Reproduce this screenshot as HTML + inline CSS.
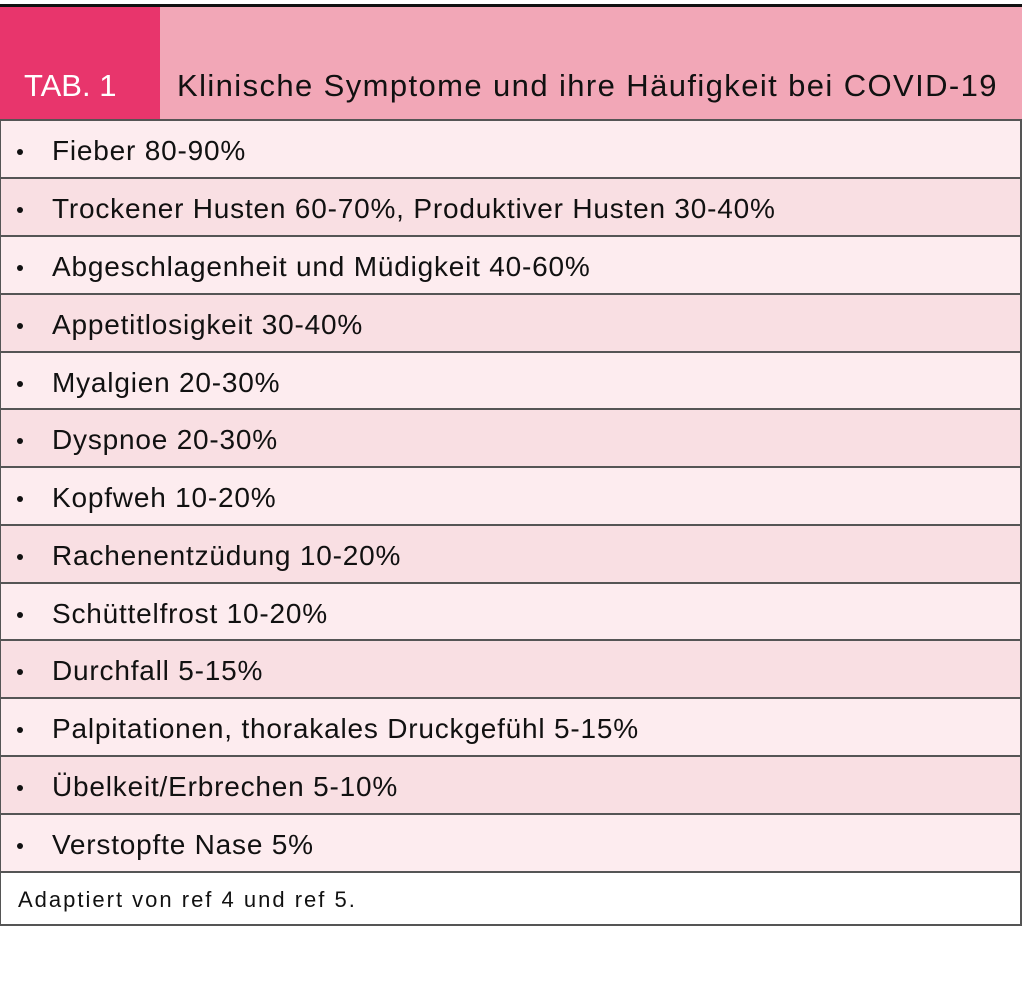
<!DOCTYPE html>
<html><head><meta charset="utf-8"><style>
body{margin:0;width:1024px;height:989px;background:#fff;position:relative;font-family:"Liberation Sans",sans-serif;overflow:hidden}
.top{position:absolute;left:0;top:4px;width:1022px;height:3px;background:#111}
.hdr{position:absolute;left:0;top:7px;width:1022px;height:112px;background:#f2a7b7}
.tab{position:absolute;left:0;top:7px;width:160px;height:112px;background:#e8356c}
.ht{position:absolute;top:68px;font-size:31px;line-height:36px}
.row{position:absolute;left:0;width:1022px;border-top:2px solid #555;border-left:1px solid #555;border-right:2px solid #555;box-sizing:border-box}
.row span{position:absolute;left:51px;top:14px;font-size:28px;line-height:32px;color:#111;letter-spacing:0.8px;white-space:nowrap}
.row b{position:absolute;left:16px;top:28px;width:6px;height:6px;border-radius:50%;background:#111}
</style></head><body>
<div class="top"></div><div class="hdr"></div><div class="tab"></div>
<div class="ht" style="left:24px;color:#fff">TAB. 1</div>
<div class="ht" style="left:177px;color:#111;letter-spacing:1.4px">Klinische Symptome und ihre Häufigkeit bei COVID-19</div>
<div class="row" style="top:119px;height:58px;background:#fdecef"><b></b><span>Fieber 80-90%</span></div>
<div class="row" style="top:177px;height:58px;background:#f9dfe3"><b></b><span>Trockener Husten 60-70%, Produktiver Husten 30-40%</span></div>
<div class="row" style="top:235px;height:58px;background:#fdecef"><b></b><span>Abgeschlagenheit und Müdigkeit 40-60%</span></div>
<div class="row" style="top:293px;height:58px;background:#f9dfe3"><b></b><span>Appetitlosigkeit 30-40%</span></div>
<div class="row" style="top:351px;height:57px;background:#fdecef"><b></b><span>Myalgien 20-30%</span></div>
<div class="row" style="top:408px;height:58px;background:#f9dfe3"><b></b><span>Dyspnoe 20-30%</span></div>
<div class="row" style="top:466px;height:58px;background:#fdecef"><b></b><span>Kopfweh 10-20%</span></div>
<div class="row" style="top:524px;height:58px;background:#f9dfe3"><b></b><span>Rachenentzüdung 10-20%</span></div>
<div class="row" style="top:582px;height:57px;background:#fdecef"><b></b><span>Schüttelfrost 10-20%</span></div>
<div class="row" style="top:639px;height:58px;background:#f9dfe3"><b></b><span>Durchfall 5-15%</span></div>
<div class="row" style="top:697px;height:58px;background:#fdecef"><b></b><span>Palpitationen, thorakales Druckgefühl 5-15%</span></div>
<div class="row" style="top:755px;height:58px;background:#f9dfe3"><b></b><span>Übelkeit/Erbrechen 5-10%</span></div>
<div class="row" style="top:813px;height:58px;background:#fdecef"><b></b><span>Verstopfte Nase 5%</span></div>
<div class="row" style="top:871px;height:55px;background:#fff;border-bottom:2px solid #555"><span style="left:17px;top:14px;font-size:22px;line-height:26px;letter-spacing:2px">Adaptiert von ref 4 und ref 5.</span></div>
</body></html>
